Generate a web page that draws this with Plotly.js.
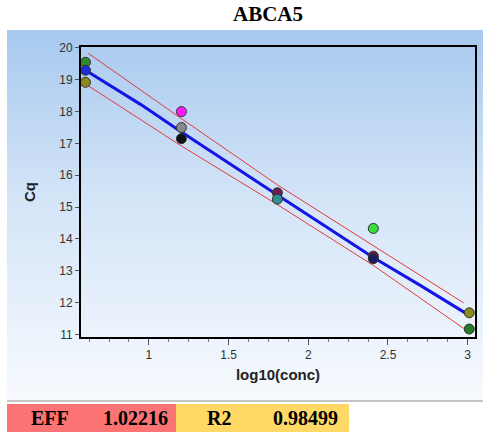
<!DOCTYPE html>
<html>
<head>
<meta charset="utf-8">
<script src="https://cdn.plot.ly/plotly-3.0.1.min.js"></script>
<style>
  html, body { margin: 0; padding: 0; background: #ffffff; }
  #wrap { position: relative; width: 488px; height: 432px; overflow: hidden; }
  #panel { position: absolute; left: 7px; top: 30px; width: 476px; height: 370px;
           background: linear-gradient(to bottom, #a7c9ef 0%, #d3e4f7 45%, #f7fafe 100%); }
  #rule { position: absolute; left: 7px; top: 400px; width: 476px; height: 2px; background: #c4c4c4; }
  #chart { position: absolute; left: 0; top: 0; width: 488px; height: 432px; }
</style>
</head>
<body>
<div id="wrap">
  <div id="panel"></div>
  <div id="rule"></div>
  <div id="chart"></div>
</div>
<script>
// ---- data ----
const chartTitle = "ABCA5";
const xTitle = "log10(conc)";
const yTitle = "Cq";

// individual wells (log10 concentration, Cq)
const wellX  = [0.602, 0.602, 0.602, 1.204, 1.204, 1.204, 1.806, 1.806, 2.408, 2.408, 2.408, 3.010, 3.010];
const wellCq = [19.55, 19.30, 18.92, 18.00, 17.50, 17.15, 15.45, 15.25, 14.33, 13.46, 13.38, 11.68, 11.17];

// fitted curve (blue)
const fitX  = [0.602, 0.95, 1.204, 1.50, 1.806, 2.10, 2.408, 2.70, 3.010];
const fitCq = [19.30, 18.22, 17.36, 16.40, 15.38, 14.42, 13.42, 12.55, 11.60];

// confidence band (red)
const bandX   = [0.620, 1.204, 1.806, 2.408, 2.975];
const upperCq = [19.83, 17.78, 15.70, 13.78, 11.99];
const lowerCq = [18.81, 16.92, 15.08, 13.17, 11.19];

// summary values
const summaryLabels = ["EFF", "R2"];
const summaryValues = ["1.02216", "0.98499"];

// ---- styling ----
const wellColors = ["#2e8b2e", "#1c2fd8", "#8c8a1e", "#ff1aff", "#8a8a8a", "#111111",
                    "#6a1f4e", "#2f9090", "#39e039", "#7a1a2a", "#1c1c5e", "#8c8a1e", "#237d23"];

const traces = [
  { x: bandX, y: upperCq, mode: "lines", line: { color: "#e23a3a", width: 1 }, hoverinfo: "skip" },
  { x: bandX, y: lowerCq, mode: "lines", line: { color: "#e23a3a", width: 1 }, hoverinfo: "skip" },
  { x: fitX, y: fitCq, mode: "lines", line: { color: "#1414e6", width: 3 }, hoverinfo: "skip" },
  { x: wellX, y: wellCq, mode: "markers",
    marker: { size: 10, color: wellColors, line: { color: "#303030", width: 1 } } }
];

// paper coordinate helpers for the plot area (margins below)
const L = 81, R = 13, T = 47, B = 95, W = 488, H = 432;
const pw = W - L - R, ph = H - T - B;
const px = v => (v - L) / pw;
const py = v => (H - B - v) / ph;

const boxFont = { family: "Liberation Serif, Times New Roman, serif", size: 20, color: "#000000" };
const ann = (x, txt) => ({ xref: "paper", yref: "paper", x: px(x), y: py(418), text: "<b>" + txt + "</b>",
  showarrow: false, font: boxFont, xanchor: "center", yanchor: "middle" });

const layout = {
  width: W, height: H,
  margin: { l: L, r: R, t: T, b: B, pad: 0 },
  paper_bgcolor: "rgba(0,0,0,0)",
  plot_bgcolor: "rgba(0,0,0,0)",
  showlegend: false,
  title: { text: "<b>" + chartTitle + "</b>", x: 268 / W, xref: "container", xanchor: "center",
           y: 1 - 14 / H, yanchor: "middle",
           font: { family: "Liberation Serif, Times New Roman, serif", size: 21, color: "#000" } },
  xaxis: {
    range: [0.574, 3.046], tickvals: [1, 1.5, 2, 2.5, 3], ticktext: ["1", "1.5", "2", "2.5", "3"],
    ticks: "outside", ticklen: 6, tickcolor: "#555", tickwidth: 1,
    minor: { dtick: 0.125, tick0: 0, ticks: "outside", ticklen: 3, tickcolor: "#777" },
    showgrid: false, zeroline: false,
    showline: true, linecolor: "#000", linewidth: 2, mirror: true,
    tickfont: { family: "Liberation Sans, Arial, sans-serif", size: 12, color: "#333" },
    title: { text: "<b>" + xTitle + "</b>", standoff: 8,
             font: { family: "Liberation Sans, Arial, sans-serif", size: 15, color: "#222" } }
  },
  yaxis: {
    range: [10.92, 20.03], dtick: 1,
    ticks: "outside", ticklen: 4, tickcolor: "#555", tickwidth: 1,
    showgrid: false, zeroline: false,
    showline: true, linecolor: "#000", linewidth: 2, mirror: true,
    tickfont: { family: "Liberation Sans, Arial, sans-serif", size: 12, color: "#333" },
    title: { text: "<b>" + yTitle + "</b>", standoff: 20,
             font: { family: "Liberation Sans, Arial, sans-serif", size: 15, color: "#222" } }
  },
  shapes: [
    { type: "rect", xref: "paper", yref: "paper", x0: px(7), x1: px(176), y0: py(404), y1: py(432),
      fillcolor: "#fb7373", line: { width: 0 } },
    { type: "rect", xref: "paper", yref: "paper", x0: px(176), x1: px(349), y0: py(404), y1: py(432),
      fillcolor: "#ffd866", line: { width: 0 } }
  ],
  annotations: [
    ann(50, summaryLabels[0]), ann(135, summaryValues[0]),
    ann(219, summaryLabels[1]), ann(305, summaryValues[1])
  ]
};

Plotly.newPlot("chart", traces, layout, { staticPlot: true, displayModeBar: false });
</script>
</body>
</html>
